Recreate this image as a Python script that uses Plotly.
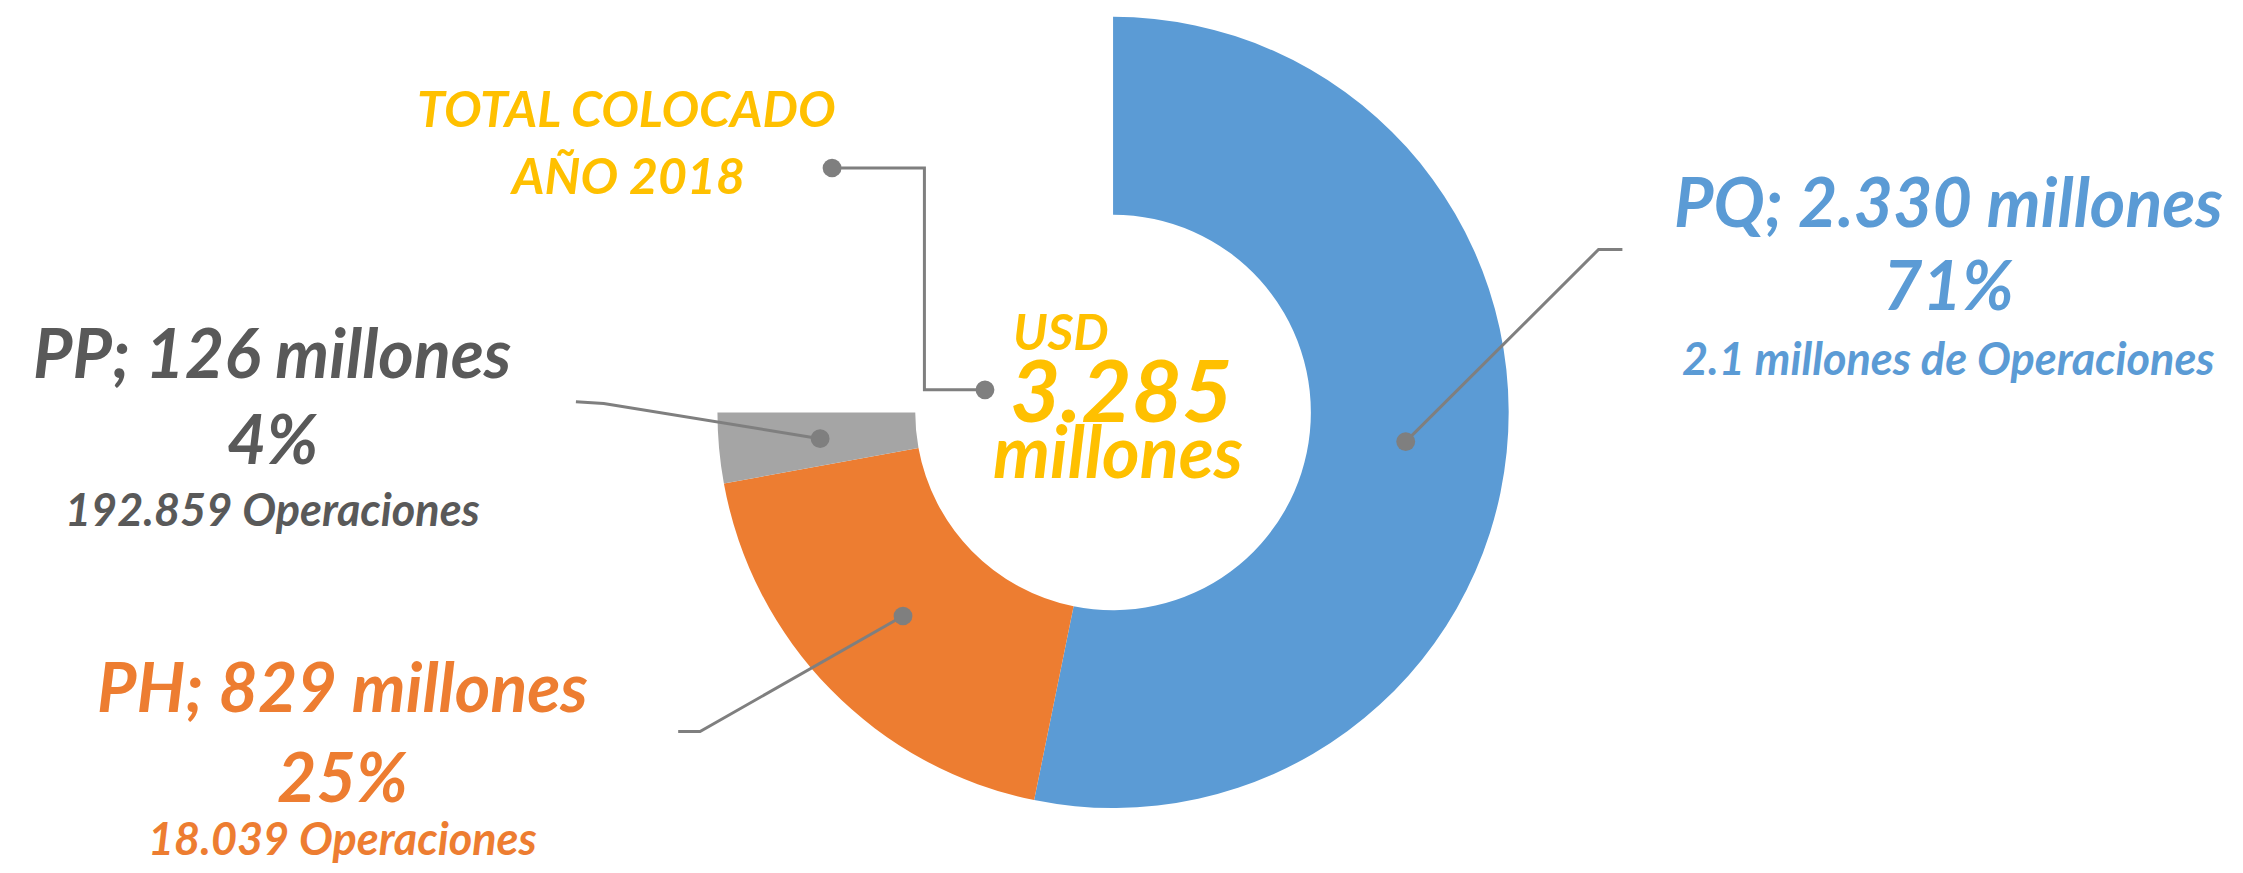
import numpy as np
import plotly.graph_objects as go

# --- datos ---
segmentos = ["PQ", "PH", "PP"]
montos = [2330, 829, 126]  # millones USD
porcentajes = ["71%", "25%", "4%"]
operaciones = ["2.1 millones de Operaciones", "18.039 Operaciones", "192.859 Operaciones"]
hueco = 1095  # cuarto vacio: el anillo solo cubre 3/4 de circulo
total_txt = "3.285"

COLORES = ["#5B9BD5", "#ED7D31", "#A5A5A5"]
TXT_COLORES = ["#5B9BD5", "#ED7D31", "#595959"]
ORO = "#FFC000"
GRIS = "#7F7F7F"
FONT = "Lato"

W, H = 2243, 873
CX, CY, R = 1113, 412, 395  # centro y radio del anillo (px)
R_DOM = 403  # plotly recorta un poco el radio del dominio
HOLE = 0.5

fig = go.Figure()

fig.add_trace(go.Pie(
    labels=segmentos + [""],
    values=montos + [hueco],
    marker=dict(colors=COLORES + ["rgba(0,0,0,0)"], line=dict(width=0)),
    hole=HOLE,
    sort=False,
    direction="clockwise",
    rotation=0,
    textinfo="none",
    hoverinfo="skip",
    showlegend=False,
    domain=dict(x=[(CX - R_DOM) / W, (CX + R_DOM) / W],
                y=[1 - (CY + R_DOM) / H, 1 - (CY - R_DOM) / H]),
))

# puntos en el centro de cada porcion
vals = montos + [hueco]
cum = np.cumsum([0] + vals)
ang = (cum[:-1] + cum[1:]) / 2 / cum[-1] * 2 * np.pi
r_mid = R * (1 + HOLE) / 2
dot_x = CX + r_mid * np.sin(ang[:3])
dot_y = CY - r_mid * np.cos(ang[:3])

# extremos de las lineas guia (lado etiqueta)
guias = [
    [(1602, 246), (1626, 246)],  # PQ
    [(697, 737), (675, 737)],    # PH
    [(600, 403), (572, 401)],    # PP
]
lineas = []
for i, pts in enumerate(guias):
    lineas.append([(dot_x[i], dot_y[i])] + pts)
lineas.append([(830, 163), (923, 163), (923, 389), (984, 389)])  # total

shapes = []
for pts in lineas:
    path = "M " + " L ".join(f"{x:.1f},{y:.1f}" for x, y in pts)
    shapes.append(dict(type="path", path=path, xref="x", yref="y", layer="above",
                       line=dict(color=GRIS, width=3)))

puntos = list(zip(dot_x, dot_y)) + [(830, 163), (984, 389)]
rd = 9.5
for x, y in puntos:
    shapes.append(dict(type="circle", xref="x", yref="y", x0=x - rd, x1=x + rd, y0=y - rd, y1=y + rd,
                       fillcolor=GRIS, line=dict(width=0), layer="above"))


def txt(x, y, s, size, color, h=None):
    fig.add_annotation(x=x, y=y, xref="x", yref="y", text=s, showarrow=False,
                       xanchor="center", yanchor="middle", height=h,
                       font=dict(family=FONT, size=size, color=color, weight="bold", style="italic"))


# etiquetas de segmentos
pos_lbl = [(1954, [196, 281, 357]), (337, [690, 782, 845]), (266, [350, 438, 510])]
for i, (x, ys) in enumerate(pos_lbl):
    txt(x, ys[0], f"{segmentos[i]}; {montos[i]:,} millones".replace(",", "."), 68, TXT_COLORES[i])
    txt(x, ys[1], porcentajes[i], 68, TXT_COLORES[i])
    txt(x, ys[2], operaciones[i], 45, TXT_COLORES[i])

# total
txt(623, 102, "TOTAL COLOCADO", 50, ORO)
txt(624, 170, "AÑO 2018", 50, ORO)
txt(1061, 329, "USD", 50, ORO, 44)
txt(1121, 387, total_txt, 87, ORO, 74)
txt(1118, 450, "millones", 72, ORO, 62)

fig.update_layout(
    margin=dict(l=0, r=0, t=0, b=0),
    paper_bgcolor="white",
    plot_bgcolor="rgba(0,0,0,0)",
    xaxis=dict(range=[0, W], visible=False, fixedrange=True),
    yaxis=dict(range=[H, 0], visible=False, fixedrange=True),
    shapes=shapes,
)

fig.write_html("out.html")
